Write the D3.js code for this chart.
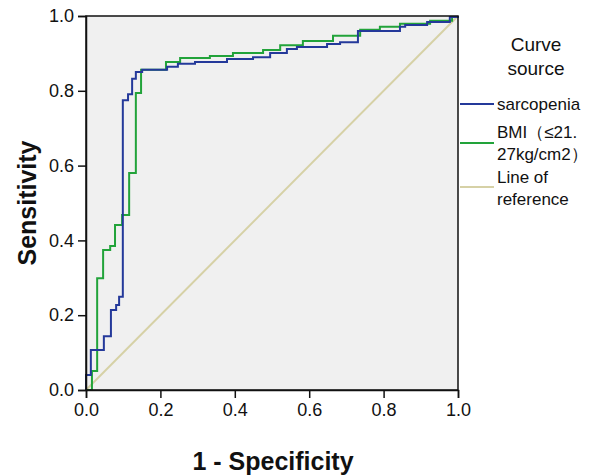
<!DOCTYPE html>
<html>
<head>
	<title>ROC curve</title>
	<script src="https://d3js.org/d3.v7.min.js"></script>
	<style type="text/css">
		body { margin:0; background:#fff; }
		svg { display:block; font-family:"Liberation Sans", Arial, sans-serif; }
		.tick text { font-size:18px; fill:#111; }
	</style>
</head>
<body>
	<script type="text/javascript">

		// ROC corner points (1 - specificity, sensitivity), step after
		var sarcopenia = [
			[0,0],[0,0.04],[0.013,0.107],[0.048,0.144],[0.067,0.214],[0.081,0.227],
			[0.089,0.249],[0.099,0.775],[0.113,0.791],[0.124,0.832],[0.134,0.850],
			[0.151,0.856],[0.218,0.864],[0.247,0.872],[0.293,0.877],[0.379,0.885],
			[0.449,0.890],[0.495,0.901],[0.540,0.912],[0.567,0.917],[0.648,0.925],
			[0.683,0.930],[0.731,0.960],[0.844,0.971],[0.858,0.976],[0.917,0.984],
			[0.978,0.997],[1,1]
		];
		var bmi = [
			[0,0],[0.016,0.051],[0.030,0.299],[0.046,0.374],[0.065,0.385],[0.078,0.441],
			[0.097,0.468],[0.116,0.580],[0.134,0.794],[0.148,0.856],[0.215,0.877],
			[0.253,0.888],[0.333,0.893],[0.395,0.901],[0.476,0.909],[0.522,0.922],
			[0.583,0.933],[0.664,0.947],[0.737,0.963],[0.790,0.971],[0.844,0.979],
			[0.925,0.987],[0.984,0.997],[1,1]
		];
		var reference = [[0,0],[1,1]];
		var ticks = [0, 0.2, 0.4, 0.6, 0.8, 1.0];
		var legendTitle = ["Curve", "source"];
		var seriesNames = [["sarcopenia"], ["BMI（≤21.", "27kg/cm2）"], ["Line of", "reference"]];
		var seriesColors = ["#24399a", "#22a33a", "#d6d1a6"];

		var chart = {
			w: 598,
			h: 475,
			left: 86,
			right: 458,
			top: 16,
			bottom: 390
		};

		var svg = d3.select("body").append("svg")
			.attr("width", chart.w)
			.attr("height", chart.h);

		var x = d3.scaleLinear().domain([0, 1]).range([chart.left, chart.right]);
		var y = d3.scaleLinear().domain([0, 1]).range([chart.bottom, chart.top]);

		// plot background
		svg.append("rect")
			.attr("x", chart.left).attr("y", chart.top)
			.attr("width", chart.right - chart.left).attr("height", chart.bottom - chart.top)
			.attr("fill", "#f0f0f0");

		var straight = d3.line()
			.x(function(d){ return x(d[0]); })
			.y(function(d){ return y(d[1]); });
		var steps = d3.line()
			.x(function(d){ return x(d[0]); })
			.y(function(d){ return y(d[1]); })
			.curve(d3.curveStepAfter);

		// reference first, curves on top
		svg.append("path")
			.attr("d", straight(reference))
			.attr("fill", "none")
			.attr("stroke", seriesColors[2])
			.attr("stroke-width", 2);

		svg.append("path")
			.attr("d", steps(bmi))
			.attr("fill", "none")
			.attr("stroke", seriesColors[1])
			.attr("stroke-width", 2);

		svg.append("path")
			.attr("d", steps(sarcopenia))
			.attr("fill", "none")
			.attr("stroke", seriesColors[0])
			.attr("stroke-width", 2);

		// frame
		svg.append("rect")
			.attr("x", chart.left).attr("y", chart.top)
			.attr("width", chart.right - chart.left).attr("height", chart.bottom - chart.top)
			.attr("fill", "none")
			.attr("stroke", "#111")
			.attr("stroke-width", 1.5);

		// axes
		var fmt = d3.format(".1f");
		function styleAxis(g){
			g.select(".domain").attr("stroke", "#111").attr("stroke-width", 1.5);
			g.selectAll(".tick line").attr("stroke", "#111").attr("stroke-width", 1.5);
		}
		svg.append("g")
			.attr("transform", "translate(0," + chart.bottom + ")")
			.call(d3.axisBottom(x).tickValues(ticks).tickFormat(fmt).tickSize(8).tickPadding(5))
			.call(styleAxis);

		svg.append("g")
			.attr("transform", "translate(" + chart.left + ",0)")
			.call(d3.axisLeft(y).tickValues(ticks).tickFormat(fmt).tickSize(8).tickPadding(4))
			.call(styleAxis);

		// axis titles
		svg.append("text")
			.attr("x", (chart.left + chart.right) / 2 + 1)
			.attr("y", 470)
			.attr("text-anchor", "middle")
			.attr("font-size", "25px")
			.attr("font-weight", "bold")
			.attr("fill", "#111")
			.text("1 - Specificity");

		svg.append("text")
			.attr("transform", "translate(36," + ((chart.top + chart.bottom) / 2) + ") rotate(-90)")
			.attr("text-anchor", "middle")
			.attr("font-size", "25px")
			.attr("font-weight", "bold")
			.attr("fill", "#111")
			.text("Sensitivity");

		// legend
		var legend = svg.append("g");
		legend.selectAll("text.title")
			.data(legendTitle)
			.enter()
			.append("text")
				.attr("class", "title")
				.attr("x", 536)
				.attr("y", function(d, i){ return 51 + i * 24; })
				.attr("text-anchor", "middle")
				.attr("font-size", "19px")
				.attr("fill", "#111")
				.text(function(d){ return d; });

		var lineY = [104, 143, 187];
		var textY = [[110], [138, 160], [183, 205]];
		seriesNames.forEach(function(names, i){
			legend.append("line")
				.attr("x1", chart.right + 2).attr("x2", 494)
				.attr("y1", lineY[i]).attr("y2", lineY[i])
				.attr("stroke", seriesColors[i])
				.attr("stroke-width", 2);
			names.forEach(function(n, j){
				legend.append("text")
					.attr("x", 497)
					.attr("y", textY[i][j])
					.attr("font-size", "17px")
					.attr("fill", "#111")
					.text(n);
			});
		});

	</script>
</body>
</html>
